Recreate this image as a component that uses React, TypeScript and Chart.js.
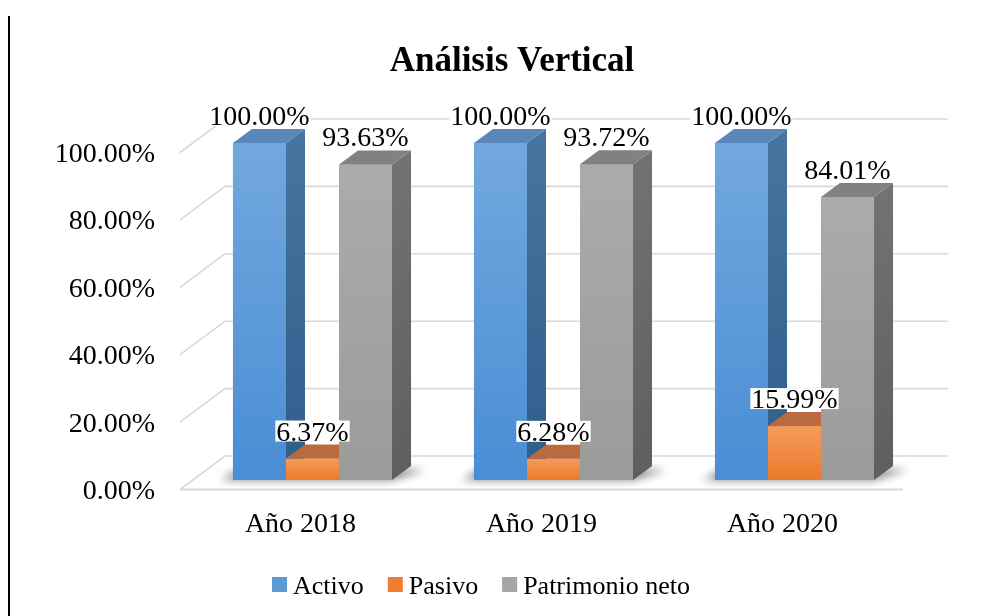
import React, { useEffect, useRef } from "react";
import { Chart, registerables } from "chart.js";

Chart.register(...registerables);

// ---------- data ----------
const categories = ["Año 2018", "Año 2019", "Año 2020"];
const seriesNames = ["Activo", "Pasivo", "Patrimonio neto"];
const activo = [100, 100, 100];
const pasivo = [6.37, 6.28, 15.99];
const patrimonio = [93.63, 93.72, 84.01];
const yTicks = [0, 20, 40, 60, 80, 100];
const chartTitle = "Análisis Vertical";

// ---------- style ----------
const FONT = '"Liberation Serif", "Times New Roman", serif';
const FRONT = { x: -12, y: 9.5 }; // floor front edge relative to bar plane
const BACK = { x: 33, y: -24 }; // back wall relative to bar plane
const DEPTH = { x: 19, y: -14 }; // bar depth
const palettes = [
  { top: "#5a86b9", s0: "#46739f", s1: "#2f5e8c", g0: "#72a8de", g1: "#4a8dd4", legend: "#5b9bd5" },
  { top: "#b96a3f", s0: "#a65c34", s1: "#94502b", g0: "#f39c5a", g1: "#ec7a2c", legend: "#ed7d31" },
  { top: "#818181", s0: "#727272", s1: "#5e5e5e", g0: "#ababab", g1: "#9b9b9b", legend: "#a5a5a5" },
];

const threeD = {
  id: "threeD",
  beforeDatasetsDraw(chart: any) {
    const { ctx, chartArea: a } = chart;
    const y = chart.scales.y;
    ctx.save();
    ctx.strokeStyle = "#d9d9d9";
    ctx.lineWidth = 1.6;
    yTicks.forEach((v) => {
      const py = y.getPixelForValue(v);
      ctx.beginPath();
      ctx.moveTo(a.left + FRONT.x, py + FRONT.y);
      ctx.lineTo(a.left + BACK.x, py + BACK.y);
      ctx.lineTo(a.right + BACK.x, py + BACK.y);
      ctx.stroke();
    });
    const p0 = y.getPixelForValue(0);
    ctx.lineWidth = 2;
    ctx.beginPath();
    ctx.moveTo(a.left + FRONT.x, p0 + FRONT.y);
    ctx.lineTo(a.right + FRONT.x, p0 + FRONT.y);
    ctx.stroke();

    // soft shadows under the bar groups
    const first = chart.getDatasetMeta(0).data;
    const last = chart.getDatasetMeta(chart.data.datasets.length - 1).data;
    ctx.filter = "blur(4px)";
    ctx.fillStyle = "rgba(0,0,0,0.5)";
    first.forEach((b: any, j: number) => {
      const e = last[j];
      const gx0 = b.x - b.width / 2;
      const gx1 = e.x + e.width / 2;
      const base = b.base;
      ctx.beginPath();
      ctx.moveTo(gx0 - 12, base);
      ctx.lineTo(gx1, base);
      ctx.lineTo(gx1 + DEPTH.x + 14, base + DEPTH.y + 4);
      ctx.lineTo(gx0 + DEPTH.x - 6, base + DEPTH.y);
      ctx.closePath();
      ctx.fill();
    });
    ctx.filter = "none";
    ctx.restore();
  },
  afterDatasetsDraw(chart: any) {
    const { ctx } = chart;
    const n = chart.data.datasets.length;
    ctx.save();
    for (let j = 0; j < categories.length; j++) {
      for (let i = 0; i < n; i++) {
        const b: any = chart.getDatasetMeta(i).data[j];
        const p = palettes[i];
        const x0 = b.x - b.width / 2;
        const x1 = b.x + b.width / 2;
        const top = b.y;
        const base = b.base;
        // front
        const g = ctx.createLinearGradient(0, top, 0, base);
        g.addColorStop(0, p.g0);
        g.addColorStop(1, p.g1);
        ctx.fillStyle = g;
        ctx.fillRect(x0, top, x1 - x0, base - top);
        // side
        const gs = ctx.createLinearGradient(0, top, 0, base);
        gs.addColorStop(0, p.s0);
        gs.addColorStop(1, p.s1);
        ctx.fillStyle = gs;
        ctx.beginPath();
        ctx.moveTo(x1, top);
        ctx.lineTo(x1 + DEPTH.x, top + DEPTH.y);
        ctx.lineTo(x1 + DEPTH.x, base + DEPTH.y);
        ctx.lineTo(x1, base);
        ctx.closePath();
        ctx.fill();
        // top
        ctx.fillStyle = p.top;
        ctx.beginPath();
        ctx.moveTo(x0, top);
        ctx.lineTo(x1, top);
        ctx.lineTo(x1 + DEPTH.x, top + DEPTH.y);
        ctx.lineTo(x0 + DEPTH.x, top + DEPTH.y);
        ctx.closePath();
        ctx.fill();
      }
    }
    // data labels
    ctx.font = `28px ${FONT}`;
    ctx.textAlign = "center";
    ctx.textBaseline = "alphabetic";
    for (let i = 0; i < n; i++) {
      const ds = chart.data.datasets[i];
      chart.getDatasetMeta(i).data.forEach((b: any, j: number) => {
        const txt = (ds.data[j] as number).toFixed(2) + "%";
        const w = ctx.measureText(txt).width;
        const bx = b.x;
        const by = b.y + DEPTH.y - 4;
        ctx.fillStyle = "#ffffff";
        ctx.fillRect(bx - w / 2 - 1, by - 20, w + 2, 21);
        ctx.fillStyle = "#000000";
        ctx.fillText(txt, bx, by);
      });
    }
    ctx.restore();
  },
  afterDraw(chart: any) {
    const { ctx, chartArea: a } = chart;
    const y = chart.scales.y;
    const x = chart.scales.x;
    ctx.save();
    // page border line
    ctx.fillStyle = "#000";
    ctx.fillRect(8, 16, 2, 600);
    // y tick labels
    ctx.font = `28px ${FONT}`;
    ctx.fillStyle = "#000";
    ctx.textAlign = "right";
    ctx.textBaseline = "alphabetic";
    yTicks.forEach((v) => {
      const py = y.getPixelForValue(v) + FRONT.y;
      ctx.fillText(v.toFixed(2) + "%", a.left + FRONT.x - 25, py + 9.5);
    });
    // x labels
    ctx.textAlign = "center";
    const p0 = y.getPixelForValue(0) + FRONT.y;
    categories.forEach((c, j) => {
      ctx.fillText(c, x.getPixelForValue(j) + FRONT.x, p0 + 42.5);
    });
    // title
    ctx.font = `bold 35px ${FONT}`;
    ctx.fillText(chartTitle, 512, 71);
    // legend
    ctx.font = `26px ${FONT}`;
    ctx.textAlign = "left";
    const box = 15, gap = 6, spacing = 24;
    const widths = seriesNames.map((s) => box + gap + ctx.measureText(s).width);
    const total = widths.reduce((s, w) => s + w, 0) + spacing * (seriesNames.length - 1);
    let lx = 481 - total / 2;
    seriesNames.forEach((s, i) => {
      ctx.fillStyle = palettes[i].legend;
      ctx.fillRect(lx, 577, box, box);
      ctx.fillStyle = "#000";
      ctx.fillText(s, lx + box + gap, 594);
      lx += widths[i] + spacing;
    });
    ctx.restore();
  },
};

export default function App() {
  const ref = useRef<HTMLCanvasElement>(null);
  useEffect(() => {
    const values = [activo, pasivo, patrimonio];
    const chart = new Chart(ref.current as HTMLCanvasElement, {
      type: "bar",
      data: {
        labels: categories,
        datasets: values.map((d, i) => ({
          label: seriesNames[i],
          data: d,
          backgroundColor: palettes[i].legend,
          borderWidth: 0,
          categoryPercentage: 0.66,
          barPercentage: 1,
        })),
      },
      options: {
        responsive: false,
        animation: false,
        devicePixelRatio: 1,
        layout: { padding: { left: 192, right: 75, top: 143, bottom: 136 } },
        scales: {
          x: { display: false },
          y: { display: false, min: 0, max: 100 },
        },
        plugins: {
          legend: { display: false },
          title: { display: false },
          tooltip: { enabled: false },
        },
      },
      plugins: [threeD],
    } as any);
    return () => chart.destroy();
  }, []);
  return (
    <canvas
      ref={ref}
      width={990}
      height={616}
      style={{ position: "fixed", left: 0, top: 0, background: "#fff" }}
    />
  );
}
